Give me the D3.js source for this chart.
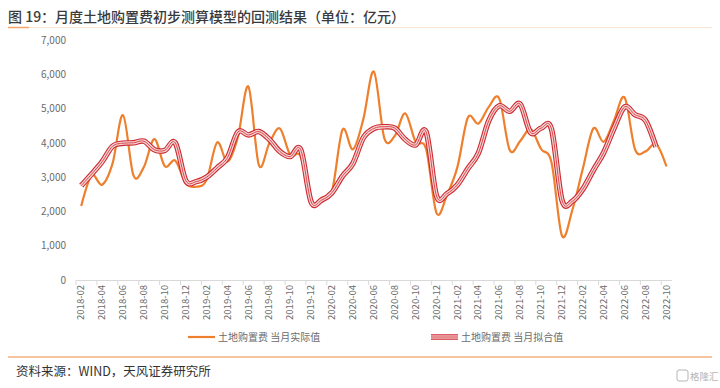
<!DOCTYPE html>
<html>
<head>
<meta charset="utf-8">
<script src="https://cdn.jsdelivr.net/npm/d3@7"></script>
<style>
  body { margin: 0; background: #fff; }
  svg { display: block; }
  text { font-family: "Noto Sans CJK SC", "Liberation Sans", sans-serif; }
</style>
</head>
<body>
<script>
const months = [
    "2018-02", "2018-03", "2018-04", "2018-05", "2018-06", "2018-07", "2018-08", "2018-09", "2018-10", "2018-11", "2018-12",
    "2019-01", "2019-02", "2019-03", "2019-04", "2019-05", "2019-06", "2019-07", "2019-08", "2019-09", "2019-10", "2019-11", "2019-12",
    "2020-01", "2020-02", "2020-03", "2020-04", "2020-05", "2020-06", "2020-07", "2020-08", "2020-09", "2020-10", "2020-11", "2020-12",
    "2021-01", "2021-02", "2021-03", "2021-04", "2021-05", "2021-06", "2021-07", "2021-08", "2021-09", "2021-10", "2021-11", "2021-12",
    "2022-01", "2022-02", "2022-03", "2022-04", "2022-05", "2022-06", "2022-07", "2022-08", "2022-09", "2022-10"
];

// 土地购置费 当月实际值 (亿元)
const actual = [
    2160, 3050, 2780, 3400, 4810, 3050, 3300, 4110, 3320, 3480, 2820,
    2720, 2920, 4010, 3450, 4180, 5640, 3350, 3990, 4420, 3650, 3600, 2290,
    2400, 2600, 4380, 3810, 4700, 6080, 4140, 4200, 4860, 4030, 3820, 1950,
    2480, 3300, 4740, 4560, 5050, 5290, 3790, 4050, 4400, 3820, 3430, 1290,
    2050, 3250, 4420, 4030, 4670, 5320, 3800, 3750, 3970, 3310
];

// 土地购置费 当月拟合值 (亿元), no value for the last month
const fitted = [
    2750, 3090, 3450, 3900, 3990, 4000, 4050, 3800, 3780, 4000, 2900,
    2870, 3000, 3270, 3570, 4320, 4230, 4330, 4100, 3750, 3600, 3800, 2280,
    2330, 2550, 3030, 3400, 4150, 4420, 4470, 4430, 4100, 3940, 4320, 2450,
    2520, 2780, 3250, 3700, 4650, 5080, 4920, 5130, 4300, 4430, 4400, 2330,
    2300, 2650, 3200, 3720, 4440, 5050, 4820, 4650, 3880, null
];

const yTicks = [0, 1000, 2000, 3000, 4000, 5000, 6000, 7000];
const xLabels = months.filter((m, i) => i % 2 == 0);

const seriesNames = ["土地购置费 当月实际值", "土地购置费 当月拟合值"];
const title = "图 19：月度土地购置费初步测算模型的回测结果（单位：亿元）";
const source = "资料来源：WIND，天风证券研究所";

const width = 720, height = 388;
const orange = "#EE7F2D";
const red = "#CC2A30";

const svg = d3.select("body").append("svg")
    .attr("width", width)
    .attr("height", height);

// title + underline
svg.append("text")
    .attr("x", 8)
    .attr("y", 22)
    .attr("font-size", 14)
    .attr("font-weight", 500)
    .attr("fill", "#3a3a3a")
    .text(title);
svg.append("line")
    .attr("x1", 8).attr("x2", 712)
    .attr("y1", 27.5).attr("y2", 27.5)
    .attr("stroke", "#FBE3D2").attr("stroke-width", 1);
svg.append("line")
    .attr("x1", 8).attr("x2", 29)
    .attr("y1", 27.5).attr("y2", 27.5)
    .attr("stroke", "#F4A46A").attr("stroke-width", 1.5);

var x = d3.scaleBand()
    .domain(months)
    .range([76, 671.7]);

var y = d3.scaleLinear()
    .domain([0, 7000])
    .range([280, 40]);

var cx = d => x(d) + x.bandwidth() / 2;

// y axis labels
var yAxis = svg.append("g")
    .attr("transform", "translate(76,0)")
    .call(d3.axisLeft(y).tickValues(yTicks).tickSize(0).tickPadding(10).tickFormat(d3.format(",")));
yAxis.select(".domain").remove();
yAxis.selectAll("text")
    .attr("font-family", "'Liberation Sans', sans-serif")
    .attr("font-size", 10)
    .attr("fill", "#6b6b6b");

// x axis
var xAxis = svg.append("g")
    .attr("transform", "translate(0,280)")
    .call(d3.axisBottom(x).tickValues(xLabels).tickSize(0).tickPadding(0));
xAxis.select(".domain")
    .attr("stroke", "#D9D9D9");
xAxis.selectAll("text")
    .attr("font-family", "'Liberation Sans', sans-serif")
    .attr("font-size", 9.5)
    .attr("fill", "#6b6b6b")
    .attr("text-anchor", "end")
    .attr("dy", "0.33em")
    .attr("transform", "translate(0,5) rotate(-90)");

// tick marks between every second category
xAxis.selectAll(".boundary")
    .data(xLabels)
    .enter().append("line")
    .attr("class", "boundary")
    .attr("x1", d => x(d)).attr("x2", d => x(d))
    .attr("y1", 0).attr("y2", 5)
    .attr("stroke", "#D9D9D9");

var line = d3.line()
    .defined(d => d[1] != null)
    .x(d => cx(d[0]))
    .y(d => y(d[1]))
    .curve(d3.curveCardinal.tension(0));

var actualPts = months.map((m, i) => [m, actual[i]]);
var fittedPts = months.map((m, i) => [m, fitted[i]]);

svg.append("path")
    .attr("d", line(actualPts))
    .attr("fill", "none")
    .attr("stroke", orange)
    .attr("stroke-width", 2.2);

// compound (double) line for the fitted series
svg.append("path")
    .attr("d", line(fittedPts))
    .attr("fill", "none")
    .attr("stroke", red)
    .attr("stroke-width", 5.5);
svg.append("path")
    .attr("d", line(fittedPts))
    .attr("fill", "none")
    .attr("stroke", "#F6D3D3")
    .attr("stroke-width", 3.3);
svg.append("path")
    .attr("d", line(fittedPts))
    .attr("fill", "none")
    .attr("stroke", "#D9474D")
    .attr("stroke-width", 1);

// legend
var legend = svg.append("g");
legend.append("line")
    .attr("x1", 188).attr("x2", 215)
    .attr("y1", 337).attr("y2", 337)
    .attr("stroke", orange).attr("stroke-width", 2.2);
legend.append("text")
    .attr("x", 218).attr("y", 341)
    .attr("font-size", 10)
    .attr("fill", "#6b6b6b")
    .text(seriesNames[0]);

legend.append("line")
    .attr("x1", 431).attr("x2", 458)
    .attr("y1", 337).attr("y2", 337)
    .attr("stroke", red).attr("stroke-width", 5.5);
legend.append("line")
    .attr("x1", 431).attr("x2", 458)
    .attr("y1", 337).attr("y2", 337)
    .attr("stroke", "#F6D3D3").attr("stroke-width", 3.3);
legend.append("line")
    .attr("x1", 431).attr("x2", 458)
    .attr("y1", 337).attr("y2", 337)
    .attr("stroke", "#D9474D").attr("stroke-width", 1);
legend.append("text")
    .attr("x", 461).attr("y", 341)
    .attr("font-size", 10)
    .attr("fill", "#6b6b6b")
    .text(seriesNames[1]);

// footer
svg.append("line")
    .attr("x1", 8).attr("x2", 712)
    .attr("y1", 357).attr("y2", 357)
    .attr("stroke", "#F4B183").attr("stroke-width", 1.5);
svg.append("text")
    .attr("x", 16).attr("y", 376)
    .attr("font-size", 12.5)
    .attr("fill", "#333")
    .text(source);

// watermark
svg.append("rect")
    .attr("x", 677).attr("y", 370)
    .attr("width", 11).attr("height", 11)
    .attr("rx", 2)
    .attr("fill", "none")
    .attr("stroke", "#b5b5b5");
svg.append("text")
    .attr("x", 690).attr("y", 380)
    .attr("font-size", 9.5)
    .attr("fill", "#b5b5b5")
    .text("格隆汇");
</script>
</body>
</html>
